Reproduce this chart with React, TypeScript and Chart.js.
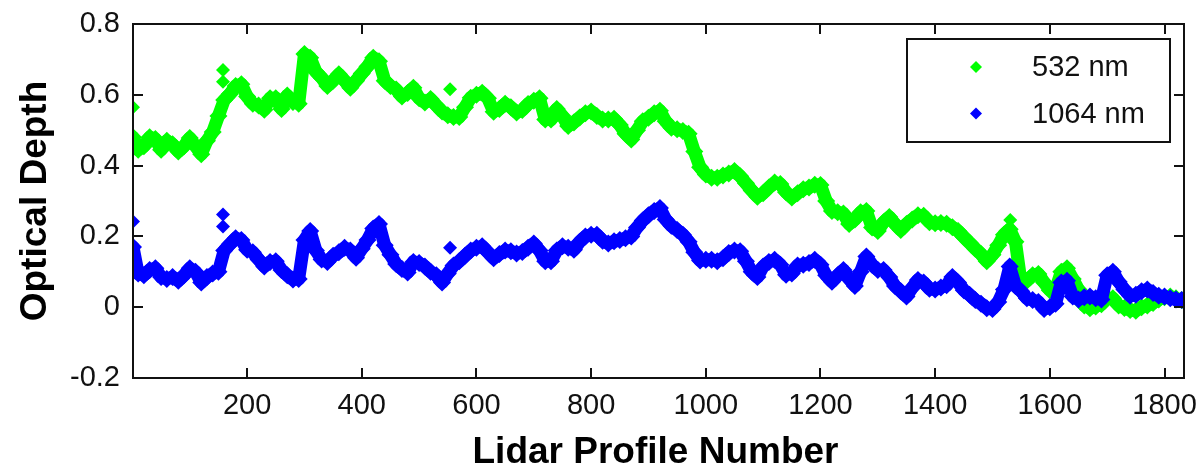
import React, { useEffect, useRef } from "react";
import { Chart, registerables } from "chart.js";

Chart.register(...registerables);

// Lidar profile numbers (x axis): every 10th profile plus the first and last
const PROFILES = [1, ...Array.from({ length: 183 }, (_, i) => (i + 1) * 10), 1834];

// Optical depth at 532 nm
const OD_532 = [
  0.48, 0.445, 0.455, 0.48, 0.475, 0.445, 0.47, 0.46, 0.44, 0.455,
  0.478, 0.455, 0.432, 0.47, 0.495, 0.54, 0.585, 0.602, 0.625, 0.63,
  0.595, 0.575, 0.57, 0.558, 0.59, 0.59, 0.56, 0.598, 0.58, 0.575,
  0.715, 0.705, 0.665, 0.648, 0.625, 0.64, 0.658, 0.64, 0.62, 0.64,
  0.66, 0.68, 0.705, 0.695, 0.64, 0.625, 0.615, 0.595, 0.605, 0.62,
  0.59, 0.578, 0.588, 0.57, 0.553, 0.542, 0.537, 0.537, 0.565, 0.592,
  0.6, 0.606, 0.59, 0.552, 0.56, 0.575, 0.565, 0.55, 0.557, 0.574,
  0.583, 0.59, 0.53, 0.53, 0.56, 0.54, 0.512, 0.522, 0.536, 0.548,
  0.553, 0.54, 0.53, 0.53, 0.532, 0.515, 0.49, 0.474, 0.5, 0.525,
  0.535, 0.548, 0.555, 0.525, 0.507, 0.503, 0.498, 0.49, 0.44, 0.395,
  0.375, 0.366, 0.366, 0.372, 0.378, 0.385, 0.37, 0.35, 0.33, 0.312,
  0.322, 0.338, 0.352, 0.348, 0.325, 0.31, 0.322, 0.333, 0.338, 0.346,
  0.345, 0.3, 0.272, 0.268, 0.265, 0.235, 0.248, 0.268, 0.272, 0.225,
  0.215, 0.24, 0.255, 0.235, 0.218, 0.235, 0.248, 0.26, 0.258, 0.24,
  0.237, 0.238, 0.236, 0.226, 0.215, 0.198, 0.182, 0.165, 0.15, 0.13,
  0.148, 0.175, 0.205, 0.22, 0.185, 0.068, 0.075, 0.09, 0.094, 0.07,
  0.048, 0.05, 0.1, 0.11, 0.08, 0.05, 0.005, -0.003, 0.002, 0.008,
  0.025, 0.025, 0.005, -0.002, -0.008, -0.01, 0.0, 0.005, 0.012, 0.022,
  0.028, 0.03, 0.025, 0.02, 0.018,
];

// Optical depth at 1064 nm
const OD_1064 = [
  0.17, 0.095, 0.09, 0.105, 0.11, 0.085, 0.08, 0.085, 0.075, 0.09,
  0.11, 0.1, 0.07, 0.085, 0.095, 0.1, 0.16, 0.178, 0.195, 0.19,
  0.162, 0.155, 0.135, 0.115, 0.128, 0.13, 0.105, 0.09, 0.078, 0.08,
  0.19, 0.215, 0.16, 0.135, 0.128, 0.145, 0.155, 0.168, 0.16, 0.14,
  0.165, 0.19, 0.222, 0.235, 0.175, 0.148, 0.122, 0.108, 0.098, 0.128,
  0.125, 0.115, 0.1, 0.09, 0.07, 0.095, 0.118, 0.13, 0.145, 0.16,
  0.168, 0.172, 0.155, 0.138, 0.15, 0.16, 0.158, 0.152, 0.156, 0.168,
  0.18, 0.16, 0.13, 0.13, 0.16, 0.172, 0.168, 0.162, 0.185, 0.2,
  0.205, 0.205, 0.188, 0.18, 0.186, 0.19, 0.195, 0.2, 0.225, 0.245,
  0.26, 0.272, 0.28, 0.248, 0.23, 0.218, 0.205, 0.185, 0.155, 0.132,
  0.134, 0.134, 0.13, 0.138, 0.153, 0.16, 0.158, 0.13, 0.1, 0.085,
  0.115, 0.128, 0.134, 0.12, 0.092, 0.095, 0.118, 0.12, 0.125, 0.134,
  0.12, 0.09, 0.072, 0.09, 0.105, 0.08, 0.06, 0.1, 0.143, 0.12,
  0.105, 0.105, 0.085, 0.06, 0.045, 0.03, 0.055, 0.077, 0.07, 0.052,
  0.05, 0.056, 0.062, 0.085, 0.07, 0.048, 0.035, 0.02, 0.01, -0.003,
  -0.005, 0.015, 0.05, 0.115, 0.06, 0.045, 0.025, 0.02, 0.015, -0.005,
  0.0, 0.01, 0.07, 0.075, 0.03, 0.022, 0.028, 0.03, 0.025, 0.022,
  0.09, 0.1, 0.072, 0.05, 0.032, 0.035, 0.045, 0.05, 0.04, 0.032,
  0.03, 0.025, 0.022, 0.02, 0.02,
];

// Isolated retrievals that stand apart from the main trace
const SPIKE_532_PROFILES = [1, 158, 158, 554, 1531];
const SPIKE_532 = [0.565, 0.67, 0.637, 0.616, 0.246];
const SPIKE_1064_PROFILES = [1, 158, 158, 554];
const SPIKE_1064 = [0.242, 0.262, 0.228, 0.168];

const X_TICKS = [200, 400, 600, 800, 1000, 1200, 1400, 1600, 1800];
const Y_TICKS = [-0.2, 0, 0.2, 0.4, 0.6, 0.8];
const Y_TICK_LABELS = ["-0.2", "0", "0.2", "0.4", "0.6", "0.8"];

const SERIES_NAMES = ["532 nm", "1064 nm"];
const SERIES_COLORS = ["#00ff00", "#0000ff"];

const X_TITLE = "Lidar Profile Number";
const Y_TITLE = "Optical Depth";

const FONT = '"Liberation Sans", Arial, sans-serif';

const toPoints = (xs: number[], ys: number[]) => xs.map((x, i) => ({ x, y: ys[i] }));

// Frame with inward ticks on all four sides, boxed legend and axis titles
const frameAndLegend = {
  id: "frameAndLegend",
  afterDatasetsDraw(chart: any) {
    const { ctx, chartArea: a, scales } = chart;
    const tick = 10;
    ctx.save();
    ctx.strokeStyle = "#111";
    ctx.lineWidth = 2;
    ctx.strokeRect(a.left, a.top, a.right - a.left, a.bottom - a.top);
    ctx.beginPath();
    X_TICKS.forEach((v) => {
      const x = Math.round(scales.x.getPixelForValue(v));
      ctx.moveTo(x, a.bottom);
      ctx.lineTo(x, a.bottom - tick);
      ctx.moveTo(x, a.top);
      ctx.lineTo(x, a.top + tick);
    });
    Y_TICKS.forEach((v) => {
      const y = Math.round(scales.y.getPixelForValue(v));
      ctx.moveTo(a.left, y);
      ctx.lineTo(a.left + tick, y);
      ctx.moveTo(a.right, y);
      ctx.lineTo(a.right - tick, y);
    });
    ctx.stroke();

    // legend
    const bw = 263;
    const bh = 103;
    const bx = a.right - 14 - bw;
    const by = a.top + 15;
    ctx.fillStyle = "#fff";
    ctx.fillRect(bx, by, bw, bh);
    ctx.strokeRect(bx, by, bw, bh);
    ctx.font = `29px ${FONT}`;
    ctx.textBaseline = "middle";
    ctx.textAlign = "left";
    SERIES_NAMES.forEach((name, i) => {
      const cy = by + 28 + i * 46.5;
      const mx = bx + 69;
      const r = 6;
      ctx.fillStyle = SERIES_COLORS[i];
      ctx.beginPath();
      ctx.moveTo(mx, cy - r);
      ctx.lineTo(mx + r, cy);
      ctx.lineTo(mx, cy + r);
      ctx.lineTo(mx - r, cy);
      ctx.closePath();
      ctx.fill();
      ctx.fillStyle = "#111";
      ctx.fillText(name, bx + 125, cy + 1);
    });

    // axis titles
    ctx.fillStyle = "#000";
    ctx.font = `bold 37px ${FONT}`;
    ctx.textAlign = "center";
    ctx.textBaseline = "alphabetic";
    ctx.fillText(X_TITLE, (a.left + a.right) / 2 - 3, 463);
    ctx.translate(46, (a.top + a.bottom) / 2);
    ctx.rotate(-Math.PI / 2);
    ctx.fillText(Y_TITLE, 0, 0);
    ctx.restore();
  },
};

export default function App() {
  const canvasRef = useRef<HTMLCanvasElement | null>(null);

  useEffect(() => {
    const canvas = canvasRef.current;
    if (!canvas) return;
    const markerSet = (color: string, order: number, data: any[], line: boolean) => ({
      data,
      order,
      showLine: line,
      borderColor: color,
      backgroundColor: color,
      borderWidth: line ? 13 : 0,
      borderJoinStyle: "round" as const,
      borderCapStyle: "round" as const,
      pointStyle: "rectRot" as const,
      pointRadius: line ? 9 : 7,
      pointBorderWidth: 0,
      pointBackgroundColor: color,
      pointBorderColor: color,
    });
    const chart = new Chart(canvas, {
      type: "scatter",
      data: {
        datasets: [
          { label: SERIES_NAMES[0], ...markerSet(SERIES_COLORS[0], 3, toPoints(PROFILES, OD_532), true) },
          { label: SERIES_NAMES[0], ...markerSet(SERIES_COLORS[0], 2, toPoints(SPIKE_532_PROFILES, SPIKE_532), false) },
          { label: SERIES_NAMES[1], ...markerSet(SERIES_COLORS[1], 1, toPoints(PROFILES, OD_1064), true) },
          { label: SERIES_NAMES[1], ...markerSet(SERIES_COLORS[1], 0, toPoints(SPIKE_1064_PROFILES, SPIKE_1064), false) },
        ],
      },
      options: {
        responsive: false,
        animation: false,
        layout: { padding: { left: 0, right: 17, top: 24, bottom: 0 } },
        plugins: { legend: { display: false }, tooltip: { enabled: false } },
        scales: {
          x: {
            type: "linear",
            min: 1,
            max: 1834,
            afterBuildTicks: (s: any) => {
              s.ticks = X_TICKS.map((value) => ({ value }));
            },
            afterFit: (s: any) => {
              s.height = 91;
              s.paddingLeft = 0;
              s.paddingRight = 0;
            },
            grid: { display: false, drawTicks: false },
            border: { display: false },
            ticks: {
              color: "#111",
              font: { family: FONT, size: 29 },
              padding: 11,
              maxRotation: 0,
              autoSkip: false,
              callback: (v: any) => String(v),
            },
          },
          y: {
            type: "linear",
            min: -0.2,
            max: 0.8,
            afterBuildTicks: (s: any) => {
              s.ticks = Y_TICKS.map((value) => ({ value }));
            },
            afterFit: (s: any) => {
              s.width = 133;
              s.paddingTop = 0;
              s.paddingBottom = 0;
            },
            grid: { display: false, drawTicks: false },
            border: { display: false },
            ticks: {
              color: "#111",
              font: { family: FONT, size: 29 },
              padding: 13,
              autoSkip: false,
              callback: (v: any) => {
                const i = Y_TICKS.findIndex((t) => Math.abs(t - v) < 1e-9);
                return i >= 0 ? Y_TICK_LABELS[i] : "";
              },
            },
          },
        },
      },
      plugins: [frameAndLegend],
    });
    return () => chart.destroy();
  }, []);

  return (
    <div style={{ position: "fixed", left: 0, top: 0, width: 1201, height: 469, background: "#fff" }}>
      <canvas ref={canvasRef} width={1201} height={469} style={{ display: "block" }} />
    </div>
  );
}
